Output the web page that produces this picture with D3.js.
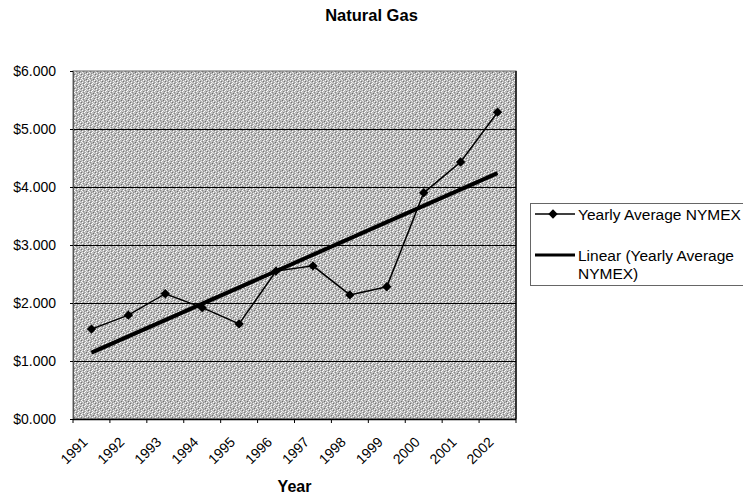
<!DOCTYPE html>
<html>
<head>
<meta charset="utf-8">
<script src="https://cdn.jsdelivr.net/npm/d3@7"></script>
<style>
  body { margin: 0; background: #fff; }
  text { font-family: "Liberation Sans", Arial, sans-serif; }
</style>
</head>
<body>
<svg id="chart" width="743" height="497"></svg>
<script>
const years = ["1991", "1992", "1993", "1994", "1995", "1996", "1997", "1998", "1999", "2000", "2001", "2002"];
const nymex = [1.55, 1.79, 2.16, 1.92, 1.64, 2.55, 2.64, 2.14, 2.28, 3.90, 4.43, 5.29];
const yTicks = [0, 1, 2, 3, 4, 5, 6];
const legendLabels = ["Yearly Average NYMEX", ["Linear (Yearly Average", "NYMEX)"]];

const margin = { top: 71, left: 73, right: 227, bottom: 78 };
const width = 743, height = 497;

const svg = d3.select("#chart");

// speckled grey fill for the plot area (hand-placed pixels, 7x7 tile)
const defs = svg.append("defs");
const pat = defs.append("pattern")
  .attr("id", "dither")
  .attr("width", 7).attr("height", 7)
  .attr("patternUnits", "userSpaceOnUse");
pat.append("rect").attr("width", 7).attr("height", 7).attr("fill", "#b6b6b6");
[[0, 0, "#ffffff"], [3, 0, "#7c7c7c"], [5, 0, "#e4e4e4"],
 [1, 1, "#d0d0d0"], [4, 1, "#ffffff"], [6, 1, "#888888"],
 [2, 2, "#6e6e6e"], [5, 2, "#f0f0f0"],
 [0, 3, "#8c8c8c"], [3, 3, "#ffffff"], [6, 3, "#dcdcdc"],
 [1, 4, "#f6f6f6"], [4, 4, "#727272"],
 [2, 5, "#e8e8e8"], [5, 5, "#ffffff"], [0, 5, "#9a9a9a"],
 [3, 6, "#d8d8d8"], [6, 6, "#7e7e7e"], [1, 6, "#ffffff"]]
  .forEach(p => pat.append("rect").attr("x", p[0]).attr("y", p[1]).attr("width", 1).attr("height", 1).attr("fill", p[2]));

const x = d3.scaleBand()
  .domain(years)
  .range([margin.left, width - margin.right])
  .padding(0);

const y = d3.scaleLinear()
  .domain([0, 6])
  .range([height - margin.bottom, margin.top]);

const cx = d => x(d) + x.bandwidth() / 2;
const x0 = x.range()[0], x1 = x.range()[1];

// plot background
svg.append("rect")
  .attr("x", x0)
  .attr("y", y(6))
  .attr("width", x1 - x0)
  .attr("height", y(0) - y(6))
  .attr("fill", "url(#dither)")
  .attr("stroke", "#666")
  .attr("stroke-width", 1);
// darker right edge
svg.append("line")
  .attr("x1", x1).attr("x2", x1).attr("y1", y(6)).attr("y2", y(0))
  .attr("stroke", "#111").attr("stroke-width", 1.5);

// gridlines
svg.append("g")
  .selectAll("line")
  .data(yTicks.filter(d => d > 0 && d < 6))
  .join("line")
  .attr("x1", x0)
  .attr("x2", x1)
  .attr("y1", d => Math.round(y(d)) + 0.5)
  .attr("y2", d => Math.round(y(d)) + 0.5)
  .attr("stroke", "#000")
  .attr("stroke-width", 1);

// y axis
const yAxis = svg.append("g")
  .attr("transform", `translate(${x0},0)`)
  .call(d3.axisLeft(y).tickValues(yTicks).tickSize(3).tickPadding(14)
    .tickFormat(d => "$" + d3.format(".3f")(d)));
yAxis.select(".domain").attr("stroke", "#555");
yAxis.selectAll("text").attr("font-size", 14).attr("fill", "#000");

// x axis: labels at centres, ticks at band edges
const xAxisY = y(0);
svg.append("line")
  .attr("x1", x0).attr("x2", x1)
  .attr("y1", xAxisY + 0.5).attr("y2", xAxisY + 0.5)
  .attr("stroke", "#000").attr("stroke-width", 1.5);
svg.append("g")
  .selectAll("line")
  .data(years.concat(["end"]))
  .join("line")
  .attr("x1", d => d === "end" ? x1 : x(d))
  .attr("x2", d => d === "end" ? x1 : x(d))
  .attr("y1", xAxisY)
  .attr("y2", xAxisY + 4)
  .attr("stroke", "#000");

svg.append("g")
  .selectAll("text")
  .data(years)
  .join("text")
  .attr("transform", d => `translate(${cx(d) - 3},${xAxisY + 24}) rotate(-45)`)
  .attr("text-anchor", "end")
  .attr("font-size", 14)
  .text(d => d);

// trend line (least squares on category index)
const idx = years.map((d, i) => i + 1);
const mx = d3.mean(idx), my = d3.mean(nymex);
const slope = d3.sum(idx, (v, i) => (v - mx) * (nymex[i] - my)) / d3.sum(idx, v => (v - mx) ** 2);
const trend = idx.map(v => my + slope * (v - mx));

svg.append("line")
  .attr("x1", cx(years[0]))
  .attr("y1", y(trend[0]))
  .attr("x2", cx(years[years.length - 1]))
  .attr("y2", y(trend[trend.length - 1]))
  .attr("stroke", "#000")
  .attr("stroke-width", 4);

// data series
svg.append("path")
  .datum(nymex)
  .attr("fill", "none")
  .attr("stroke", "#000")
  .attr("stroke-width", 1.5)
  .attr("d", d3.line().x((d, i) => cx(years[i])).y(d => y(d)));

const diamond = d3.symbol().type(d3.symbolDiamond2).size(56);
svg.append("g")
  .selectAll("path")
  .data(nymex)
  .join("path")
  .attr("transform", (d, i) => `translate(${cx(years[i])},${y(d)})`)
  .attr("d", diamond)
  .attr("fill", "#000");

// title and axis title
svg.append("text")
  .attr("x", width / 2).attr("y", 21)
  .attr("text-anchor", "middle")
  .attr("font-size", 16.5).attr("font-weight", "bold")
  .text("Natural Gas");

svg.append("text")
  .attr("x", (x0 + x1) / 2).attr("y", 492)
  .attr("text-anchor", "middle")
  .attr("font-size", 16).attr("font-weight", "bold")
  .text("Year");

// legend
const lg = svg.append("g");
lg.append("rect")
  .attr("x", 530.5).attr("y", 203.5)
  .attr("width", 220).attr("height", 82)
  .attr("fill", "#fff")
  .attr("stroke", "#666");

lg.append("line")
  .attr("x1", 535).attr("x2", 575).attr("y1", 214).attr("y2", 214)
  .attr("stroke", "#000").attr("stroke-width", 1.5);
lg.append("path")
  .attr("transform", "translate(553,214)")
  .attr("d", diamond)
  .attr("fill", "#000");
lg.append("text")
  .attr("x", 578).attr("y", 219.5)
  .attr("font-size", 15.5)
  .text(legendLabels[0]);

lg.append("line")
  .attr("x1", 535).attr("x2", 575).attr("y1", 255).attr("y2", 255)
  .attr("stroke", "#000").attr("stroke-width", 3);
lg.append("text")
  .attr("x", 578).attr("y", 261)
  .attr("font-size", 15.5)
  .selectAll("tspan")
  .data(legendLabels[1])
  .join("tspan")
  .attr("x", 578)
  .attr("dy", (d, i) => i === 0 ? 0 : 18)
  .text(d => d);
</script>
</body>
</html>
